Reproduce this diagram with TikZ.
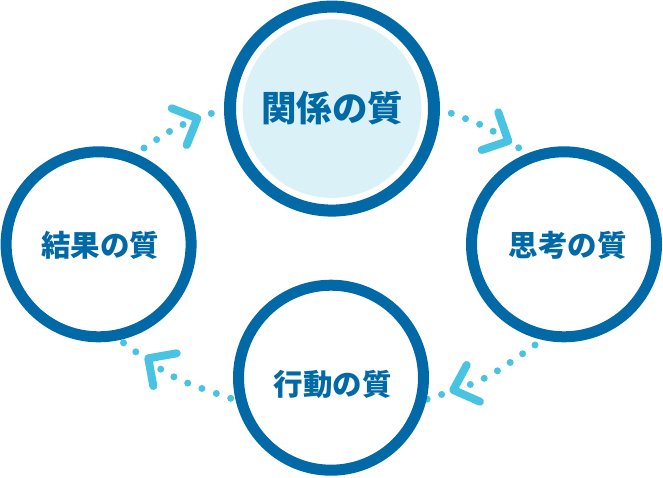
\documentclass[tikz,border=0pt]{standalone}
\usepackage{fontspec}
\usetikzlibrary{backgrounds}
\newfontfamily\jpfont{Noto Sans CJK JP}
\definecolor{ringblue}{HTML}{0069A6}
\definecolor{arrowcyan}{HTML}{48C3E1}
\definecolor{lightfill}{HTML}{DAF1F8}
\begin{document}
\begin{tikzpicture}[x=1pt,y=-1pt,
  ringnode/.style={circle, draw=ringblue, fill=white, inner sep=0pt, outer sep=0pt},
  smallring/.style={ringnode, line width=11pt, minimum size=185pt},
  bigring/.style={ringnode, line width=12pt, minimum size=204pt,
    path picture={\fill[lightfill] (path picture bounding box.center) circle[radius=89.3pt];}},
  smalltext/.style={text=ringblue, inner sep=0pt, font={\jpfont\bfseries\fontsize{29.5pt}{32pt}\selectfont}},
  bigtext/.style={text=ringblue, inner sep=0pt, font={\jpfont\bfseries\fontsize{35.5pt}{40pt}\selectfont}},
  dotline/.style={draw=arrowcyan, line width=7pt, line cap=round, dash pattern=on 0pt off 15.2pt},
  chevron/.style={draw=arrowcyan, line width=8pt, line cap=round, line join=round}]
\useasboundingbox (0,0) rectangle (663,477);

\node[bigring]   (top)    at (332,108.6) {};
\node[smallring] (left)   at (98.6,244.3) {};
\node[smallring] (right)  at (564,244.3) {};
\node[smallring] (bottom) at (331,377.7) {};

\node[bigtext]   (toptxt)    at (332.2,107.8) {関係の質};
\node[smalltext] (lefttxt)   at (100,245.8)   {結果の質};
\node[smalltext] (righttxt)  at (567.5,245.8) {思考の質};
\node[smalltext] (bottomtxt) at (332.5,384.3) {行動の質};

% dotted connectors
\coordinate (a1s) at (144,148);   \coordinate (a1c) at (175.8,126.7); \coordinate (a1e) at (211.7,113.3);
\coordinate (a2s) at (451.3,113.3); \coordinate (a2c) at (487.2,126.7); \coordinate (a2e) at (519,148);
\coordinate (a3s) at (535,345);   \coordinate (a3c) at (485.0,380.5); \coordinate (a3e) at (426.7,399.3);
\coordinate (a4s) at (230.7,398.3); \coordinate (a4c) at (172.7,378.8); \coordinate (a4e) at (123.3,342.7);

\begin{scope}[on background layer]
\draw[dotline] (a1s) .. controls (a1c) .. (a1e);
\draw[dotline] (a2s) .. controls (a2c) .. (a2e);
\draw[dotline] (a3s) .. controls (a3c) .. (a3e);
\draw[dotline] (a4s) .. controls (a4c) .. (a4e);
\end{scope}

% chevrons
\coordinate (c1a) at (171.7,108.3); \coordinate (c1v) at (197.3,118.3); \coordinate (c1b) at (186.7,145);
\coordinate (c2a) at (498.3,112.3); \coordinate (c2v) at (508.3,141);   \coordinate (c2b) at (481.7,150);
\coordinate (c3a) at (466.7,365);   \coordinate (c3v) at (453.3,390);   \coordinate (c3b) at (480,401.7);
\coordinate (c4a) at (176.7,353.3); \coordinate (c4v) at (148.3,358.3); \coordinate (c4b) at (153.3,386);
\draw[chevron] (c1a) -- (c1v) -- (c1b);
\draw[chevron] (c2a) -- (c2v) -- (c2b);
\draw[chevron] (c3a) -- (c3v) -- (c3b);
\draw[chevron] (c4a) -- (c4v) -- (c4b);
\end{tikzpicture}
\end{document}
